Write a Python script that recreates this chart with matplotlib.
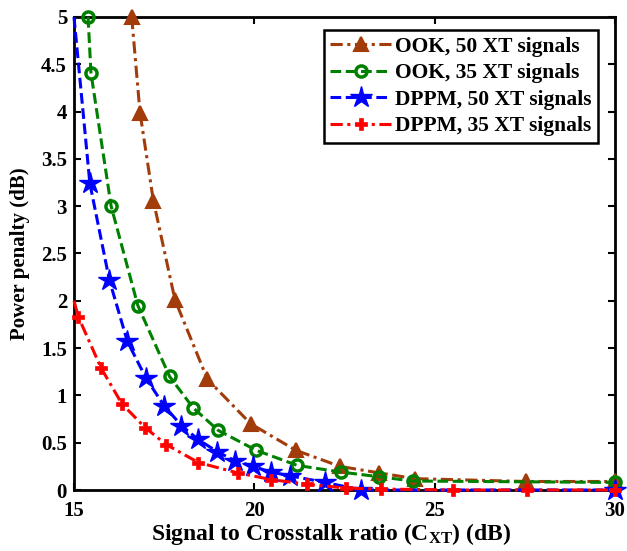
import matplotlib
matplotlib.use("Agg")
import matplotlib.pyplot as plt

plt.rcParams['font.family'] = ['Liberation Serif', 'DejaVu Serif']
plt.rcParams['font.weight'] = 'bold'
plt.rcParams['mathtext.fontset'] = 'custom'
plt.rcParams['mathtext.rm'] = 'Liberation Serif:bold'
plt.rcParams['mathtext.bf'] = 'Liberation Serif:bold'
plt.rcParams['mathtext.it'] = 'Liberation Serif:bold'

# Data
ook50_x = [16.6, 16.83, 17.2, 17.8, 18.7, 19.9, 21.15, 22.37, 23.47, 24.45, 27.53, 30.0]
ook50_y = [5.0, 3.99, 3.06, 2.01, 1.17, 0.70, 0.42, 0.25, 0.18, 0.12, 0.09, 0.09]

ook35_x = [15.39, 15.47, 16.03, 16.77, 17.65, 18.3, 19.0, 20.05, 21.19, 22.39, 23.46, 24.39, 30.0]
ook35_y = [5.0, 4.41, 3.0, 1.95, 1.2, 0.87, 0.63, 0.42, 0.26, 0.19, 0.14, 0.095, 0.08]

dppm50_x = [15.0, 15.44, 15.98, 16.48, 17.0, 17.5, 17.98, 18.44, 18.97, 19.46, 19.97, 20.45, 20.99, 21.96, 22.97, 30.0]
dppm50_y = [5.0, 3.24, 2.22, 1.57, 1.18, 0.89, 0.68, 0.535, 0.405, 0.31, 0.25, 0.19, 0.15, 0.08, 0.0, 0.0]

dppm35_x = [15.0, 15.12, 15.75, 16.33, 16.97, 17.56, 18.45, 19.55, 20.47, 21.47, 22.55, 23.5, 25.5, 27.55, 30.0]
dppm35_y = [2.0, 1.83, 1.29, 0.91, 0.66, 0.48, 0.29, 0.18, 0.11, 0.06, 0.02, 0.01, 0.0, 0.0, 0.0]

labels = ["OOK, 50 XT signals", "OOK, 35 XT signals",
          "DPPM, 50 XT signals", "DPPM, 35 XT signals"]

xticks = [15, 20, 25, 30]
yticks = [0, 0.5, 1, 1.5, 2, 2.5, 3, 3.5, 4, 4.5, 5]
ytick_labels = ["0", "0.5", "1", "1.5", "2", "2.5", "3", "3.5", "4", "4.5", "5"]

fig = plt.figure(figsize=(6.27, 5.51), dpi=100)
ax = fig.add_axes([74/627, 61/551, 541/627, 473/551])

lw = 2.2
brown = '#a23c0a'
green = '#008000'
blue = '#0000ff'
red = '#ff0000'

ax.plot(ook50_x, ook50_y, linestyle=(0, (4, 1.5, 1, 1.5)), color=brown, lw=lw,
        marker='^', ms=10, mfc=brown, mec=brown, mew=1.5, clip_on=False, label=labels[0], zorder=3)
ax.plot(ook35_x, ook35_y, linestyle=(0, (3.5, 1.5)), color=green, lw=lw,
        marker='o', ms=8, mfc='none', mec=green, mew=2.5, clip_on=False, label=labels[1], zorder=4)
ax.plot(dppm50_x, dppm50_y, linestyle=(0, (3.5, 1.5)), color=blue, lw=lw,
        marker='*', ms=16, mfc=blue, mec=blue, mew=1, clip_on=False,
        markevery=list(range(1, len(dppm50_x))), label=labels[2], zorder=5)
ax.plot(dppm35_x, dppm35_y, linestyle=(0, (4, 1.5, 1, 1.5)), color=red, lw=lw,
        marker='P', ms=8, mfc=red, mec=red, mew=0.5, clip_on=False,
        markevery=list(range(1, len(dppm35_x))), label=labels[3], zorder=6)

ax.set_xlim(15, 30)
ax.set_ylim(0, 5)
ax.set_xticks(xticks)
ax.set_yticks(yticks)
ax.set_yticklabels(ytick_labels)
ax.tick_params(direction='in', top=True, right=True, length=5, width=1.5,
               labelsize=15)
ax.tick_params(axis='x', pad=8)
ax.tick_params(axis='y', pad=5)
for lab in ax.get_xticklabels() + ax.get_yticklabels():
    lab.set_fontweight('bold')
for sp in ax.spines.values():
    sp.set_linewidth(2)

ax.set_xlabel(r"Signal to Crosstalk ratio (C$_{\mathrm{XT}}$) (dB)", fontsize=17, fontweight='bold')
ax.xaxis.set_label_coords(0.475, -0.065, transform=ax.transAxes)
ax.set_ylabel("Power penalty (dB)", fontsize=15, fontweight='bold', labelpad=8)

leg = ax.legend(loc='upper right', bbox_to_anchor=(0.9686, 0.9725), fontsize=15.5,
                frameon=True, fancybox=False, edgecolor='black', framealpha=1,
                handlelength=2.8, handletextpad=0.2, borderpad=0.3, labelspacing=0.3,
                borderaxespad=0.0)
leg.get_frame().set_linewidth(1.8)
for t in leg.get_texts():
    t.set_fontweight('bold')

fig.savefig("out.png", dpi=100)
